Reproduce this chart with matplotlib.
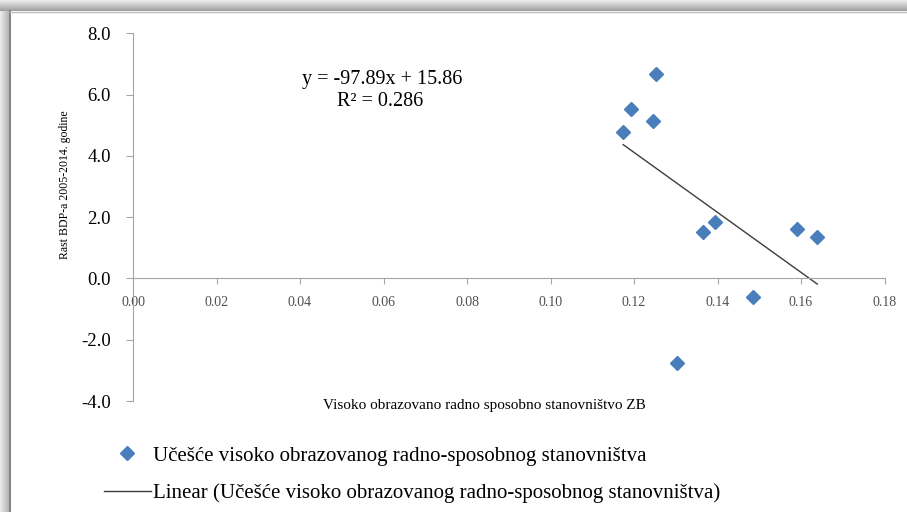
import numpy as np
import matplotlib.pyplot as plt

plt.rcParams['font.family'] = ['Liberation Serif', 'DejaVu Serif']
plt.rcParams['axes.unicode_minus'] = False

# data
udio_vso = [0.1174, 0.1192, 0.1253, 0.1245, 0.1365, 0.1394, 0.1591, 0.1639, 0.1486, 0.1302]
rast_bdp = [4.79, 5.54, 6.67, 5.15, 1.53, 1.83, 1.61, 1.34, -0.61, -2.77]
nagib = -97.89
odsjecak = 15.86
r2 = 0.286

x_ticks = [0.00, 0.02, 0.04, 0.06, 0.08, 0.10, 0.12, 0.14, 0.16, 0.18]
y_ticks = [-4.0, -2.0, 0.0, 2.0, 4.0, 6.0, 8.0]

serija = 'Učešće visoko obrazovanog radno-sposobnog stanovništva'

W, H = 907, 512
fig = plt.figure(figsize=(W / 100, H / 100), dpi=100)
fig.patch.set_facecolor('white')

# gray frame (shadow) top and left
bg = fig.add_axes([0, 0, 1, 1], zorder=-10)
top = np.linspace(0.93, 0.62, 50).reshape(-1, 1)
bg.imshow(top, cmap='gray', vmin=0, vmax=1, extent=[0, W, 11, 0], aspect='auto')
left = np.linspace(0.93, 0.70, 50).reshape(1, -1)
bg.imshow(left, cmap='gray', vmin=0, vmax=1, extent=[0, 9, H, 11], aspect='auto')
bg.plot([9.5, 9.5], [11, H], color='#6e6e6e', lw=1.2)
bg.plot([9.5, W], [11.5, 11.5], color='#bdbdbd', lw=1.0)
bg.set_xlim(0, W)
bg.set_ylim(H, 0)
bg.axis('off')

ax = fig.add_axes([133 / W, 1 - 401 / H, 751.5 / W, (401 - 33.3) / H])
ax.set_facecolor('none')

sc, = ax.plot(udio_vso, rast_bdp, linestyle='none', marker='D', markersize=7.5,
              color='#4a7ebb', label=serija)
xl = np.array([min(udio_vso), max(udio_vso)])
tr, = ax.plot(xl, nagib * xl + odsjecak, color='#3c3c3c', lw=1.0,
              label='Linear (' + serija + ')')

ax.set_xlim(0, 0.18)
ax.set_ylim(-4, 8)
ax.set_xticks(x_ticks)
ax.set_xticklabels(['%.2f' % v for v in x_ticks])
ax.set_yticks(y_ticks)
ax.set_yticklabels(['%.1f' % v for v in y_ticks])

for s in ['top', 'right']:
    ax.spines[s].set_visible(False)
ax.spines['bottom'].set_position(('data', 0))
ax.spines['bottom'].set_color('#a6a6a6')
ax.spines['left'].set_color('#a6a6a6')
ax.tick_params(axis='y', direction='out', length=5, color='#a6a6a6',
               labelsize=13.5, pad=11)
ax.tick_params(axis='x', direction='out', length=4, color='#a6a6a6',
               labelsize=10, labelcolor='#505050', pad=9)

# trendline equation
fig.text(382 / W, 1 - 84 / H, 'y = -97.89x + 15.86', ha='center', va='baseline',
         fontsize=14.5)
fig.text(380 / W, 1 - 106 / H, 'R² = %.3f' % r2, ha='center', va='baseline',
         fontsize=14.5)

fig.text(484 / W, 1 - 405 / H, 'Visoko obrazovano radno sposobno stanovništvo ZB',
         ha='center', va='center', fontsize=11)
fig.text(65 / W, 1 - 185 / H, 'Rast BDP-a 2005-2014. godine', rotation=90,
         ha='center', va='center', fontsize=8.5)

fig.legend(handles=[sc, tr], loc='upper left', bbox_to_anchor=(104 / W, 1 - 446 / H),
           frameon=False, fontsize=15, handlelength=2.25, handletextpad=0.1,
           labelspacing=0.85, borderpad=0, borderaxespad=0)

fig.savefig('out.png', dpi=100)
